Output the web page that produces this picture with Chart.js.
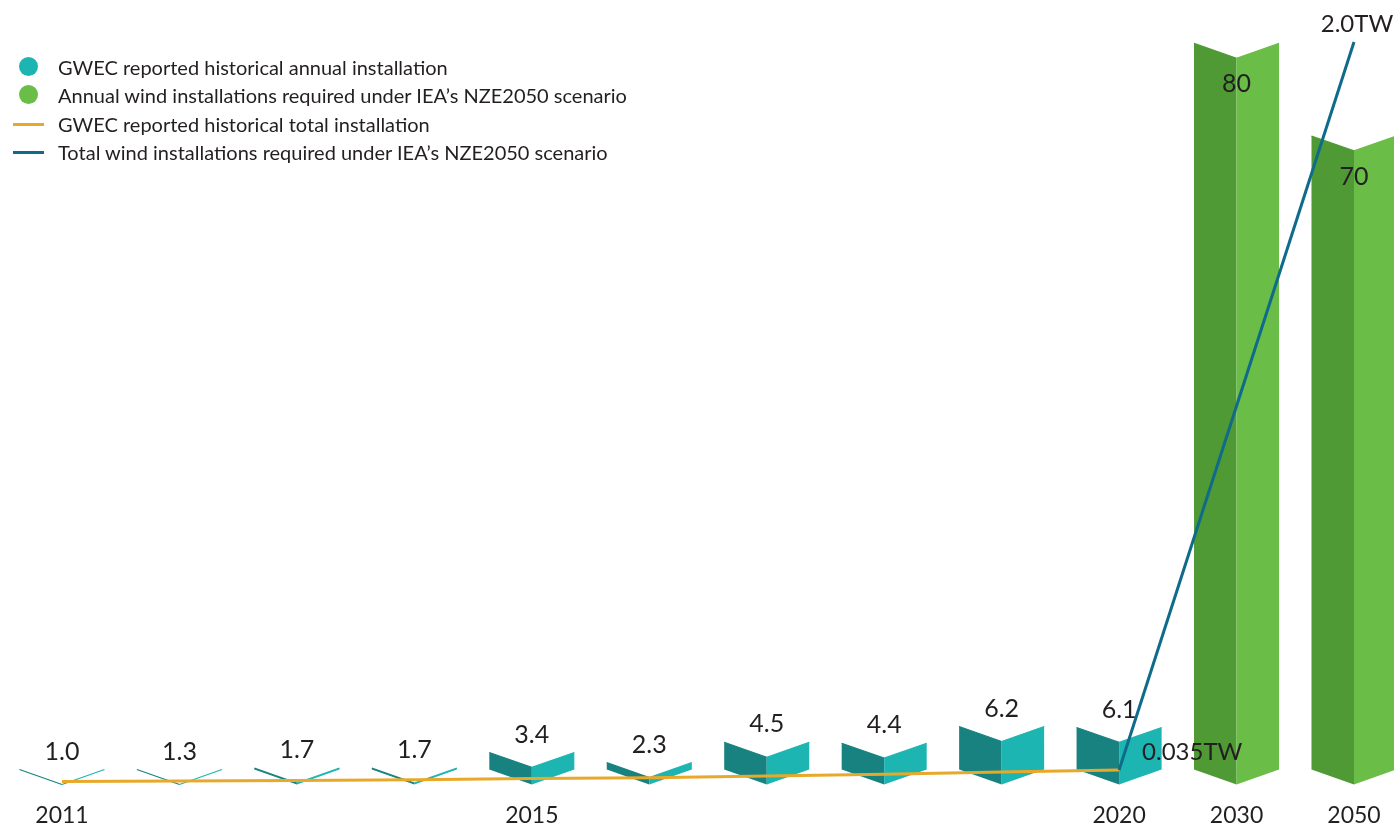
<!DOCTYPE html>
<html>
<head>
<meta charset="utf-8">
<script src="https://cdn.jsdelivr.net/npm/chart.js@4.4.0/dist/chart.umd.min.js"></script>
<style>
  html, body { margin: 0; padding: 0; background: #fff; overflow: hidden; }
  #wrap { position: relative; width: 1394px; height: 827px; }
  #chart { display: block; }
  #legend { position: absolute; left: 0; top: 0; font-family: Lato, sans-serif; font-size: 20px; color: #231f20; }
  .item { position: absolute; left: 0; height: 24px; white-space: nowrap; }
  .item span { position: absolute; left: 58px; top: 0; line-height: 24px; }
  .dot { position: absolute; left: 19px; top: 2px; width: 19px; height: 19px; border-radius: 50%; }
  .dash { position: absolute; left: 13px; top: 11px; width: 31px; height: 3px; }
</style>
</head>
<body>
<div id="wrap">
  <canvas id="chart" width="1394" height="827"></canvas>
  <div id="legend"></div>
</div>
<script>
// categories
var years = ['2011', '2012', '2013', '2014', '2015', '2016', '2017', '2018', '2019', '2020', '2030', '2050'];
var shownYears = ['2011', '2015', '2020', '2030', '2050'];

// annual installations, GW
var historicalAnnual = [1.0, 1.3, 1.7, 1.7, 3.4, 2.3, 4.5, 4.4, 6.2, 6.1, null, null];
var requiredAnnual = [null, null, null, null, null, null, null, null, null, null, 80, 70];

// total installations, TW
var historicalTotal = [0.0041, 0.0054, 0.0070, 0.0087, 0.0121, 0.0144, 0.0189, 0.0233, 0.0295, 0.0353, null, null];
var requiredTotal = [null, null, null, null, null, null, null, null, null, 0.035, null, 2.0];

var labelsText = [
  'GWEC reported historical annual installation',
  'Annual wind installations required under IEA\u2019s NZE2050 scenario',
  'GWEC reported historical total installation',
  'Total wind installations required under IEA\u2019s NZE2050 scenario'
];

var teal = ['#188280', '#1db5b2'];
var green = ['#4f9a35', '#6abd46'];
var textColor = '#231f20';
var fontFamily = 'Lato, sans-serif';

// folded "book" bars + value labels
var foldedBars = {
  id: 'foldedBars',
  beforeDatasetDraw: function(chart, args) {
    var meta = args.meta;
    if (meta.type !== 'bar') return;
    var ds = chart.data.datasets[args.index];
    var ctx = chart.ctx;
    ctx.save();
    meta.data.forEach(function(el, i) {
      if (ds.data[i] == null) return;
      var half = el.width / 2;
      var d = el.width * 0.176;
      var b = el.base;
      var top = Math.min(el.y, b);
      // left face
      ctx.fillStyle = ds.faceColors[0];
      ctx.beginPath();
      ctx.moveTo(el.x - half, top);
      ctx.lineTo(el.x, top + d);
      ctx.lineTo(el.x, b + d);
      ctx.lineTo(el.x - half, b);
      ctx.closePath();
      ctx.fill();
      ctx.strokeStyle = ds.faceColors[0];
      ctx.lineWidth = 1.2;
      ctx.beginPath();
      ctx.moveTo(el.x - half, top);
      ctx.lineTo(el.x, top + d);
      ctx.stroke();
      // right face
      ctx.fillStyle = ds.faceColors[1];
      ctx.beginPath();
      ctx.moveTo(el.x + half, top);
      ctx.lineTo(el.x, top + d);
      ctx.lineTo(el.x, b + d);
      ctx.lineTo(el.x + half, b);
      ctx.closePath();
      ctx.fill();
      ctx.strokeStyle = ds.faceColors[1];
      ctx.beginPath();
      ctx.moveTo(el.x + half, top);
      ctx.lineTo(el.x, top + d);
      ctx.stroke();
    });
    ctx.restore();
    return false;
  },
  afterDatasetsDraw: function(chart) {
    var ctx = chart.ctx;
    ctx.save();
    ctx.fillStyle = textColor;
    ctx.textBaseline = 'middle';
    chart.data.datasets.forEach(function(ds, di) {
      var meta = chart.getDatasetMeta(di);
      meta.data.forEach(function(el, i) {
        var v = ds.data[i];
        if (v == null) return;
        if (ds.valueLabel === 'above') {
          ctx.font = '25px ' + fontFamily;
          ctx.textAlign = 'center';
          ctx.fillText(v.toFixed(1), el.x, Math.min(el.y, el.base) - 18);
        } else if (ds.valueLabel === 'inside') {
          ctx.font = '25px ' + fontFamily;
          ctx.textAlign = 'center';
          ctx.fillText(String(v), el.x, el.y + 41);
        } else if (ds.valueLabel === 'tw') {
          ctx.font = '24px ' + fontFamily;
          if (i === ds.data.length - 1) {
            ctx.textAlign = 'center';
            ctx.fillText(v.toFixed(1) + 'TW', el.x + 3, el.y - 18);
          } else {
            ctx.textAlign = 'left';
            ctx.fillText(v + 'TW', el.x + 23, el.y - 18);
          }
        }
      });
    });
    ctx.restore();
  }
};

var chart = new Chart(document.getElementById('chart').getContext('2d'), {
  type: 'bar',
  data: {
    labels: years,
    datasets: [
      {
        type: 'line',
        label: labelsText[3],
        data: requiredTotal,
        yAxisID: 'y2',
        borderColor: '#0f6b8a',
        borderWidth: 3,
        pointRadius: 0,
        spanGaps: true,
        clip: false,
        order: 0,
        valueLabel: 'tw'
      },
      {
        type: 'line',
        label: labelsText[2],
        data: historicalTotal,
        yAxisID: 'y2',
        borderColor: '#e8a92a',
        borderWidth: 3,
        pointRadius: 0,
        clip: false,
        order: 0
      },
      {
        label: labelsText[0],
        data: historicalAnnual,
        faceColors: teal,
        backgroundColor: teal[1],
        base: 1.56,
        grouped: false,
        categoryPercentage: 1,
        barPercentage: 0.724,
        order: 1,
        valueLabel: 'above'
      },
      {
        label: labelsText[1],
        data: requiredAnnual,
        faceColors: green,
        backgroundColor: green[1],
        base: 1.56,
        grouped: false,
        categoryPercentage: 1,
        barPercentage: 0.724,
        order: 1,
        valueLabel: 'inside'
      }
    ]
  },
  options: {
    responsive: false,
    animation: false,
    layout: { padding: { left: 62, right: 40, top: 42, bottom: 0 } },
    plugins: {
      legend: { display: false },
      tooltip: { enabled: false }
    },
    scales: {
      x: {
        offset: false,
        grid: { display: false, drawTicks: false },
        border: { display: false },
        afterFit: function(scale) {
          scale.height = 44;
          scale.paddingLeft = 0;
          scale.paddingRight = 0;
        },
        ticks: {
          autoSkip: false,
          maxRotation: 0,
          padding: 21,
          color: textColor,
          font: { family: fontFamily, size: 23, lineHeight: 1 },
          callback: function(val, i) {
            return shownYears.indexOf(years[i]) >= 0 ? years[i] : '';
          }
        }
      },
      y: { display: false, min: 0.10, max: 80.15 },
      y2: { display: false, min: 0, max: 2.0 }
    }
  },
  plugins: [foldedBars]
});

// legend
var legendItems = [
  { text: labelsText[0], color: teal[1], kind: 'dot', y: 66.5 },
  { text: labelsText[1], color: green[1], kind: 'dot', y: 94.5 },
  { text: labelsText[2], color: '#e8a92a', kind: 'dash', y: 124 },
  { text: labelsText[3], color: '#0f6b8a', kind: 'dash', y: 152 }
];
var legend = document.getElementById('legend');
legendItems.forEach(function(it) {
  var row = document.createElement('div');
  row.className = 'item';
  row.style.top = (it.y - 12) + 'px';
  var mark = document.createElement('div');
  mark.className = it.kind;
  mark.style.background = it.color;
  var label = document.createElement('span');
  label.textContent = it.text;
  row.appendChild(mark);
  row.appendChild(label);
  legend.appendChild(row);
});
</script>
</body>
</html>
